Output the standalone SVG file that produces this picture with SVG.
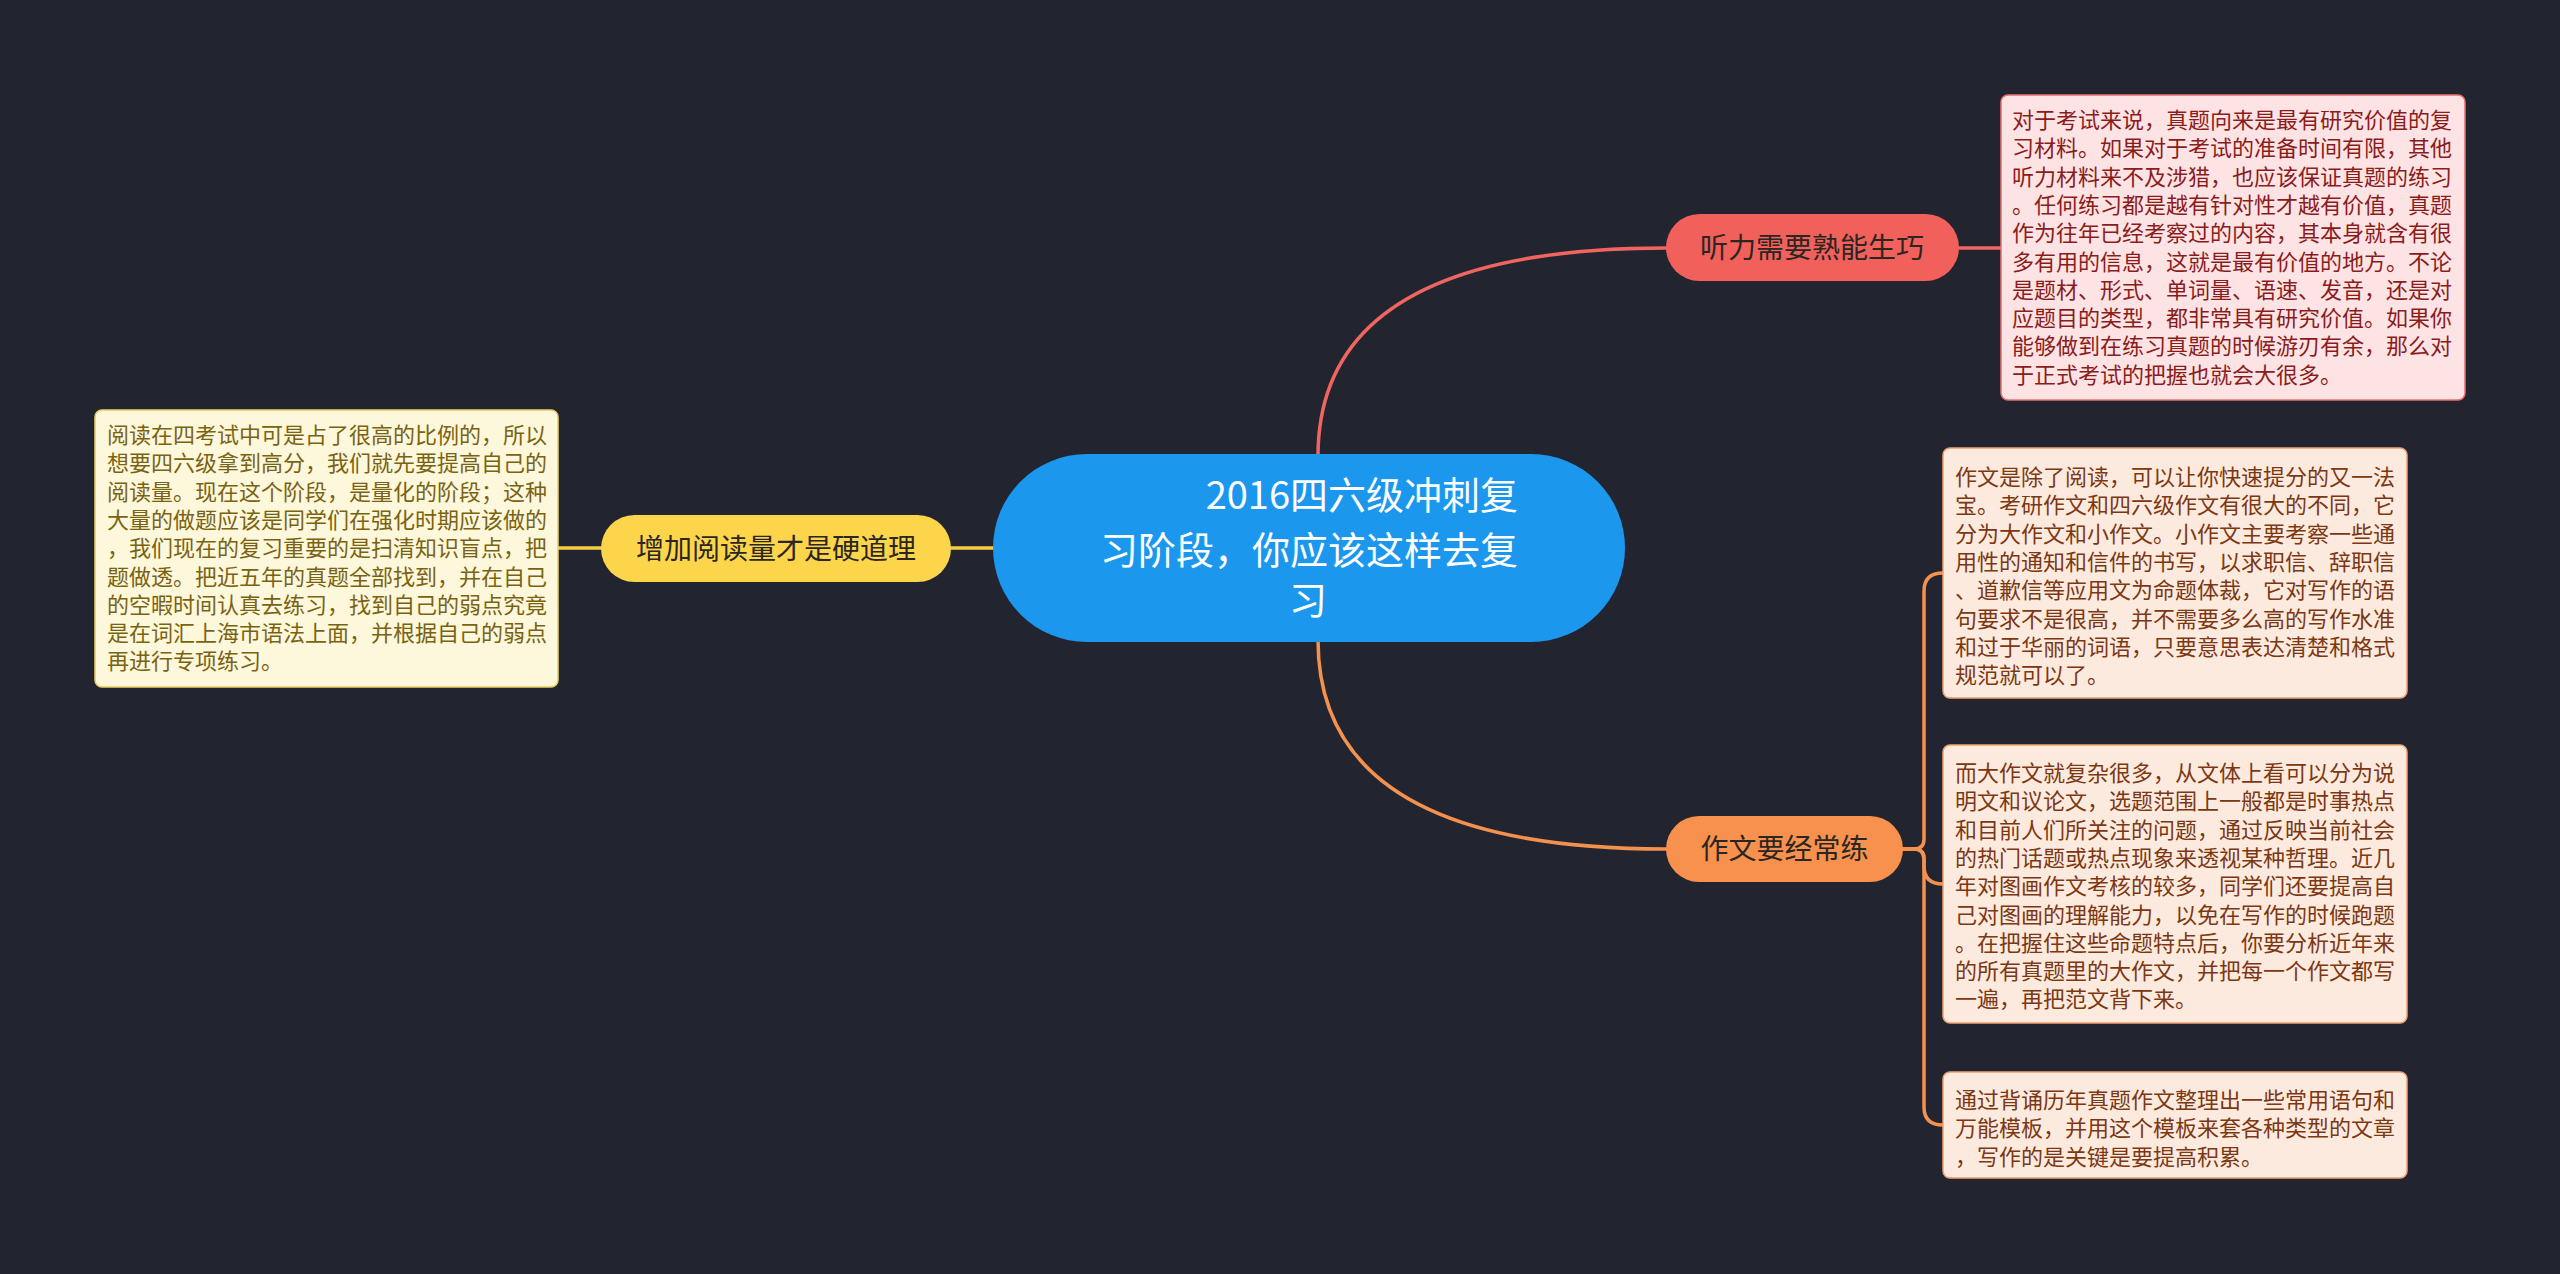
<svg xmlns="http://www.w3.org/2000/svg" width="2560" height="1274" viewBox="0 0 2560 1274">
<style>
text{font-family:"Noto Sans CJK SC","Noto Sans",sans-serif}
.box{stroke-width:1.5}
.t22{font-size:22px}
.t28{font-size:28px;fill:#2b2622;text-anchor:middle}
.conn{fill:none;stroke-width:3.5;stroke-linecap:round}
</style>
<rect width="2560" height="1274" fill="#22252f"/>
<g id="connectors">
<path class="conn" stroke="#f06560" d="M1318,456 Q1318,248 1666,248"/>
<path class="conn" stroke="#f06560" d="M1959,248 H2001"/>
<path class="conn" stroke="#f5914e" d="M1318,640 Q1318,849 1666,849"/>
<path class="conn" stroke="#f5914e" d="M1903,849 H1914 Q1924,849 1924,839 V591 Q1924,573 1943,573"/>
<path class="conn" stroke="#f5914e" d="M1903,849 H1914 Q1924,849 1924,859 V866 Q1924,884 1943,884"/>
<path class="conn" stroke="#f5914e" d="M1903,849 H1914 Q1924,849 1924,859 V1107 Q1924,1125 1943,1125"/>
<path class="conn" stroke="#f5cc45" d="M951,548 H995"/>
<path class="conn" stroke="#f5cc45" d="M558,548 H601"/>
</g>
<g id="root">
<rect x="993" y="454" width="632" height="188" rx="94" fill="#1b98ee"/>
<text font-size="38" fill="#ffffff"><tspan x="1518" y="509" text-anchor="end">2016四六级冲刺复</tspan><tspan x="1518" y="564" text-anchor="end">习阶段，你应该这样去复</tspan><tspan x="1308" y="614" text-anchor="middle">习</tspan></text>
</g>
<g id="n-listen">
<rect x="1666" y="214" width="293" height="67" rx="33.5" fill="#f2605c"/>
<text class="t28" x="1812" y="258">听力需要熟能生巧</text>
</g>
<g id="n-listen-detail">
<rect class="box" x="2001" y="95" width="464" height="305" rx="7" fill="#fde3e3" stroke="#e87070"/>
<text class="t22" fill="#8a1c1c">
<tspan x="2012" y="128">对于考试来说，真题向来是最有研究价值的复</tspan>
<tspan x="2012" y="156.3">习材料。如果对于考试的准备时间有限，其他</tspan>
<tspan x="2012" y="184.6">听力材料来不及涉猎，也应该保证真题的练习</tspan>
<tspan x="2012" y="212.9">。任何练习都是越有针对性才越有价值，真题</tspan>
<tspan x="2012" y="241.2">作为往年已经考察过的内容，其本身就含有很</tspan>
<tspan x="2012" y="269.5">多有用的信息，这就是最有价值的地方。不论</tspan>
<tspan x="2012" y="297.8">是题材、形式、单词量、语速、发音，还是对</tspan>
<tspan x="2012" y="326.1">应题目的类型，都非常具有研究价值。如果你</tspan>
<tspan x="2012" y="354.4">能够做到在练习真题的时候游刃有余，那么对</tspan>
<tspan x="2012" y="382.7">于正式考试的把握也就会大很多。</tspan>
</text>
</g>
<g id="n-reading">
<rect x="601" y="515" width="350" height="67" rx="33.5" fill="#fdd54a"/>
<text class="t28" x="776" y="559">增加阅读量才是硬道理</text>
</g>
<g id="n-reading-detail">
<rect class="box" x="95" y="410" width="463" height="277" rx="7" fill="#fdf7dc" stroke="#e8cf60"/>
<text class="t22" fill="#7a6310">
<tspan x="107" y="443">阅读在四考试中可是占了很高的比例的，所以</tspan>
<tspan x="107" y="471.3">想要四六级拿到高分，我们就先要提高自己的</tspan>
<tspan x="107" y="499.6">阅读量。现在这个阶段，是量化的阶段；这种</tspan>
<tspan x="107" y="527.9">大量的做题应该是同学们在强化时期应该做的</tspan>
<tspan x="107" y="556.2">，我们现在的复习重要的是扫清知识盲点，把</tspan>
<tspan x="107" y="584.5">题做透。把近五年的真题全部找到，并在自己</tspan>
<tspan x="107" y="612.8">的空暇时间认真去练习，找到自己的弱点究竟</tspan>
<tspan x="107" y="641.1">是在词汇上海市语法上面，并根据自己的弱点</tspan>
<tspan x="107" y="669.4">再进行专项练习。</tspan>
</text>
</g>
<g id="n-writing">
<rect x="1666" y="816" width="237" height="66" rx="33" fill="#f7914d"/>
<text class="t28" x="1784.5" y="859">作文要经常练</text>
</g>
<g id="n-writing-d1">
<rect class="box" x="1943" y="448" width="464" height="250" rx="7" fill="#fdeadf" stroke="#f0a070"/>
<text class="t22" fill="#7b3812">
<tspan x="1955" y="485">作文是除了阅读，可以让你快速提分的又一法</tspan>
<tspan x="1955" y="513.3">宝。考研作文和四六级作文有很大的不同，它</tspan>
<tspan x="1955" y="541.6">分为大作文和小作文。小作文主要考察一些通</tspan>
<tspan x="1955" y="569.9">用性的通知和信件的书写，以求职信、辞职信</tspan>
<tspan x="1955" y="598.2">、道歉信等应用文为命题体裁，它对写作的语</tspan>
<tspan x="1955" y="626.5">句要求不是很高，并不需要多么高的写作水准</tspan>
<tspan x="1955" y="654.8">和过于华丽的词语，只要意思表达清楚和格式</tspan>
<tspan x="1955" y="683.1">规范就可以了。</tspan>
</text>
</g>
<g id="n-writing-d2">
<rect class="box" x="1943" y="745" width="464" height="278" rx="7" fill="#fdeadf" stroke="#f0a070"/>
<text class="t22" fill="#7b3812">
<tspan x="1955" y="781">而大作文就复杂很多，从文体上看可以分为说</tspan>
<tspan x="1955" y="809.3">明文和议论文，选题范围上一般都是时事热点</tspan>
<tspan x="1955" y="837.6">和目前人们所关注的问题，通过反映当前社会</tspan>
<tspan x="1955" y="865.9">的热门话题或热点现象来透视某种哲理。近几</tspan>
<tspan x="1955" y="894.2">年对图画作文考核的较多，同学们还要提高自</tspan>
<tspan x="1955" y="922.5">己对图画的理解能力，以免在写作的时候跑题</tspan>
<tspan x="1955" y="950.8">。在把握住这些命题特点后，你要分析近年来</tspan>
<tspan x="1955" y="979.1">的所有真题里的大作文，并把每一个作文都写</tspan>
<tspan x="1955" y="1007.4">一遍，再把范文背下来。</tspan>
</text>
</g>
<g id="n-writing-d3">
<rect class="box" x="1943" y="1072" width="464" height="106" rx="7" fill="#fdeadf" stroke="#f0a070"/>
<text class="t22" fill="#7b3812">
<tspan x="1955" y="1108">通过背诵历年真题作文整理出一些常用语句和</tspan>
<tspan x="1955" y="1136.3">万能模板，并用这个模板来套各种类型的文章</tspan>
<tspan x="1955" y="1164.6">，写作的是关键是要提高积累。</tspan>
</text>
</g>
</svg>
